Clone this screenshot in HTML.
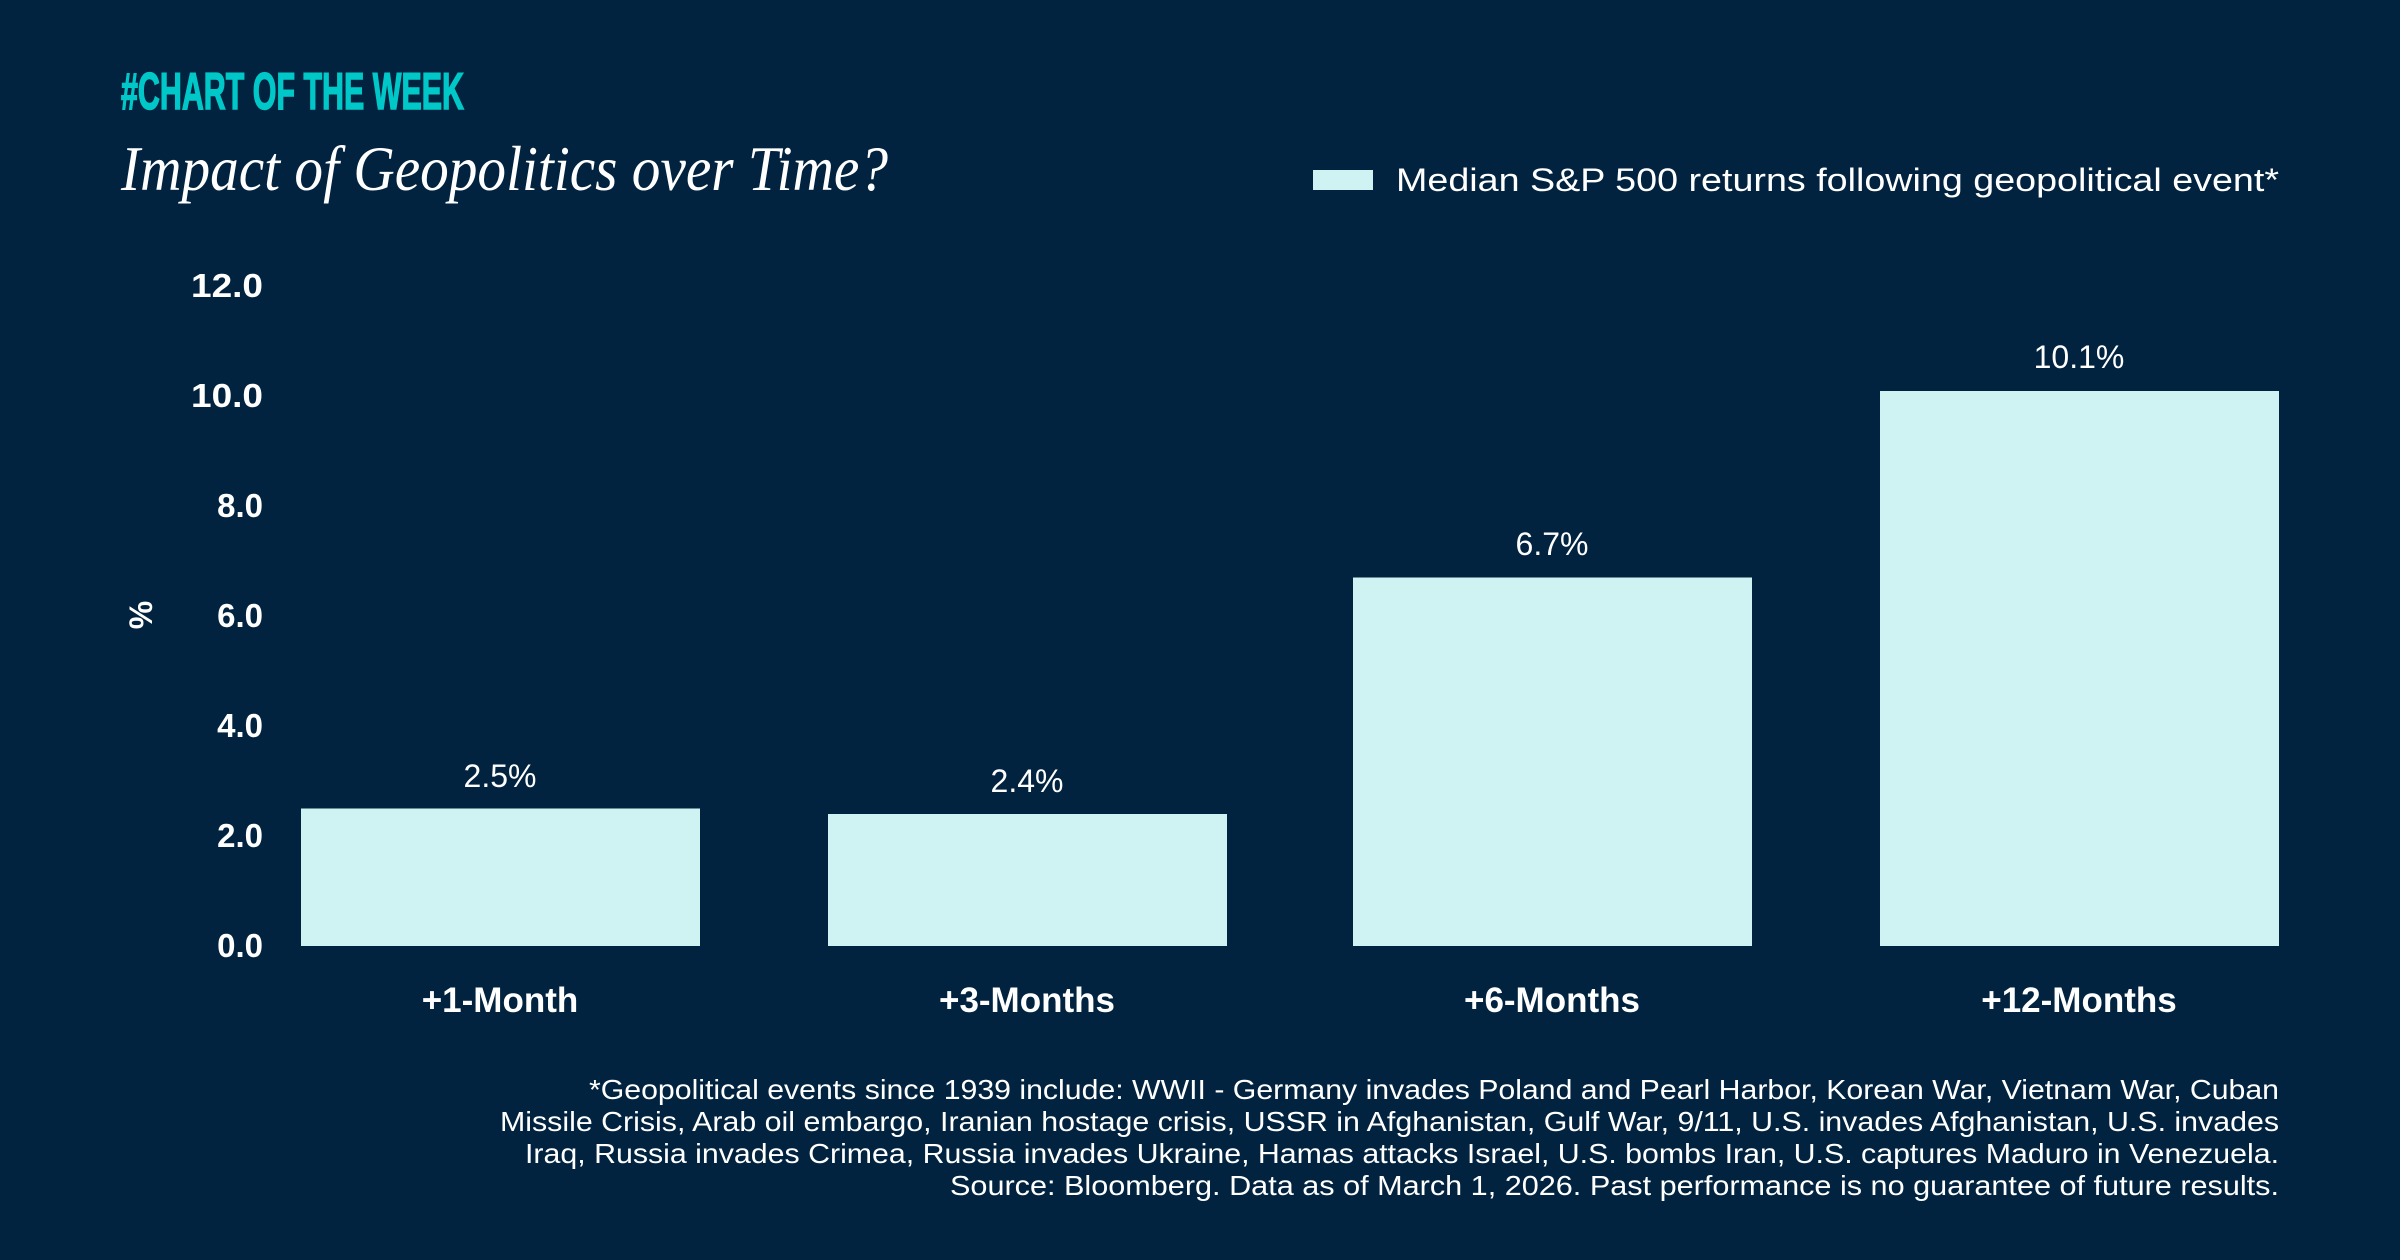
<!DOCTYPE html>
<html><head><meta charset="utf-8"><style>
html,body{margin:0;padding:0;background:#01233f;}
svg{display:block}
text{font-family:"Liberation Sans",sans-serif;fill:#fff}
</style></head><body>
<svg width="2400" height="1260" viewBox="0 0 2400 1260" xmlns="http://www.w3.org/2000/svg">
<rect width="2400" height="1260" fill="#01233f"/>
<text x="121" y="109" font-size="52" font-weight="bold" fill="#00c8c8" style="fill:#00c8c8;stroke:#00c8c8;stroke-width:1.5" textLength="343" lengthAdjust="spacingAndGlyphs">#CHART OF THE WEEK</text>
<text x="121" y="190" font-size="64" font-style="italic" style="font-family:'Liberation Serif',serif" textLength="767" lengthAdjust="spacingAndGlyphs">Impact of Geopolitics over Time?</text>
<rect x="1313" y="170" width="60" height="20" fill="#cef3f2"/>
<text x="1396" y="191" font-size="32" textLength="883" lengthAdjust="spacingAndGlyphs">Median S&amp;P 500 returns following geopolitical event*</text>
<g font-size="33" font-weight="bold" text-anchor="end">
<text x="263" y="297" textLength="72" lengthAdjust="spacingAndGlyphs">12.0</text>
<text x="263" y="407" textLength="72" lengthAdjust="spacingAndGlyphs">10.0</text>
<text x="263" y="517">8.0</text>
<text x="263" y="627">6.0</text>
<text x="263" y="737">4.0</text>
<text x="263" y="847">2.0</text>
<text x="263" y="957">0.0</text>
</g>
<text transform="translate(152,615) rotate(-90)" font-size="32" font-weight="bold" text-anchor="middle">%</text>
<g fill="#cef3f2">
<rect x="301" y="808.5" width="399" height="137.5"/>
<rect x="828" y="814" width="399" height="132"/>
<rect x="1353" y="577.5" width="399" height="368.5"/>
<rect x="1880" y="391" width="399" height="555"/>
</g>
<g font-size="32" text-anchor="middle">
<text x="500" y="787">2.5%</text>
<text x="1027" y="792">2.4%</text>
<text x="1552" y="555">6.7%</text>
<text x="2079" y="368">10.1%</text>
</g>
<g font-size="35" font-weight="bold" text-anchor="middle">
<text x="500" y="1012">+1-Month</text>
<text x="1027" y="1012">+3-Months</text>
<text x="1552" y="1012">+6-Months</text>
<text x="2079" y="1012">+12-Months</text>
</g>
<g font-size="28" text-anchor="end">
<text x="2279" y="1099" textLength="1690" lengthAdjust="spacingAndGlyphs">*Geopolitical events since 1939 include: WWII - Germany invades Poland and Pearl Harbor, Korean War, Vietnam War, Cuban</text>
<text x="2279" y="1131" textLength="1779" lengthAdjust="spacingAndGlyphs">Missile Crisis, Arab oil embargo, Iranian hostage crisis, USSR in Afghanistan, Gulf War, 9/11, U.S. invades Afghanistan, U.S. invades</text>
<text x="2279" y="1163" textLength="1754" lengthAdjust="spacingAndGlyphs">Iraq, Russia invades Crimea, Russia invades Ukraine, Hamas attacks Israel, U.S. bombs Iran, U.S. captures Maduro in Venezuela.</text>
<text x="2279" y="1195" textLength="1329" lengthAdjust="spacingAndGlyphs">Source: Bloomberg. Data as of March 1, 2026. Past performance is no guarantee of future results.</text>
</g>
</svg>
</body></html>
